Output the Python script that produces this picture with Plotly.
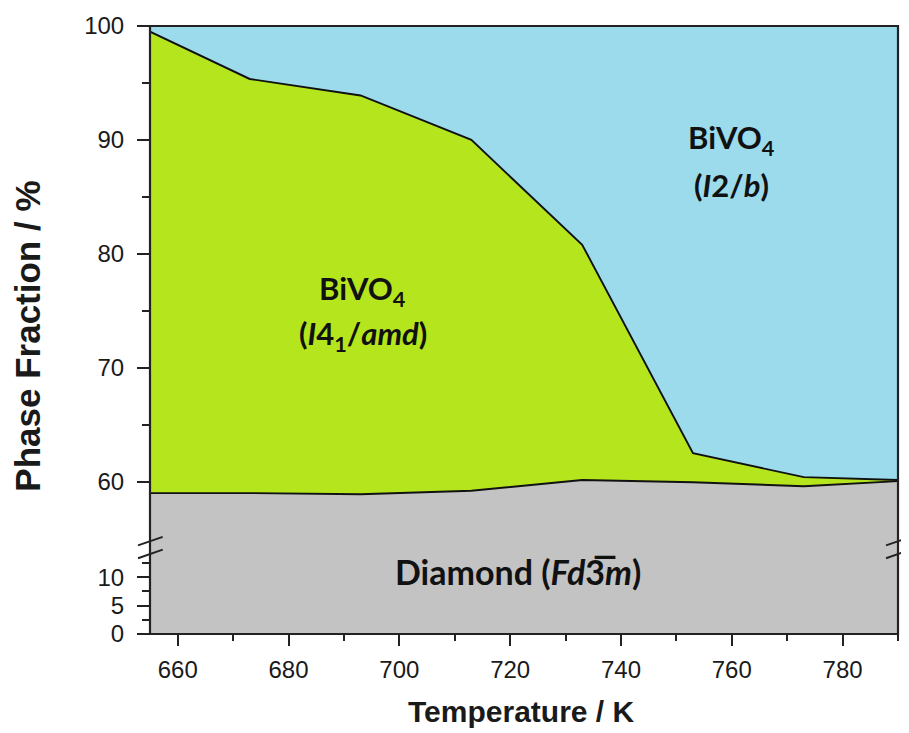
import plotly.graph_objects as go

# Temperatures (K) at which boundaries were read (ends at axis limits)
temperature = [655, 673, 693, 713, 733, 753, 773, 790]
# Cumulative phase fraction (%): Diamond (Fd-3m) upper boundary
diamond_top = [59.0, 59.0, 58.9, 59.2, 60.15, 59.95, 59.6, 60.05]
# Cumulative phase fraction (%): Diamond + BiVO4 (I41/amd) upper boundary
tetragonal_top = [99.5, 95.35, 93.9, 90.0, 80.8, 62.5, 60.4, 60.15]
# Total (Diamond + I41/amd + I2/b)
total = [100, 100, 100, 100, 100, 100, 100, 100]

top_ticks = [60, 70, 80, 90, 100]
top_minor = [65, 75, 85, 95]
bottom_ticks = [0, 5, 10]
bottom_minor = [2.5, 7.5, 12.5]
x_ticks = [660, 680, 700, 720, 740, 760, 780]
x_minor = [670, 690, 710, 730, 750, 770, 790]

GRAY = "#C3C3C3"
GREEN = "#B5E61D"
BLUE = "#9BDBEB"
LINE = "#111111"

fig = go.Figure()
# upper (broken) section
fig.add_trace(go.Scatter(x=temperature, y=diamond_top, mode="lines", fill="tozeroy",
                         fillcolor=GRAY, line=dict(color=LINE, width=1.9),
                         xaxis="x", yaxis="y", showlegend=False, hoverinfo="skip"))
fig.add_trace(go.Scatter(x=temperature, y=tetragonal_top, mode="lines", fill="tonexty",
                         fillcolor=GREEN, line=dict(color=LINE, width=1.9),
                         xaxis="x", yaxis="y", showlegend=False, hoverinfo="skip"))
fig.add_trace(go.Scatter(x=temperature, y=total, mode="lines", fill="tonexty",
                         fillcolor=BLUE, line=dict(color=BLUE, width=0),
                         xaxis="x", yaxis="y", showlegend=False, hoverinfo="skip"))
# lower section (0 - 16 %)
fig.add_trace(go.Scatter(x=temperature, y=diamond_top, mode="lines", fill="tozeroy",
                         fillcolor=GRAY, line=dict(color=GRAY, width=0),
                         xaxis="x", yaxis="y2", showlegend=False, hoverinfo="skip"))

brk = 0.1497
tickfont = dict(family="Liberation Sans, Arial", size=24, color="#1a1a1a")

fig.update_layout(
    width=893, height=725,
    margin=dict(l=142, r=3, t=18, b=99),
    paper_bgcolor="white", plot_bgcolor="white",
    xaxis=dict(range=[655, 790], anchor="y2", tickvals=x_ticks, ticks="outside",
               ticklen=11, tickwidth=2, tickcolor="#222", showline=False,
               showgrid=False, zeroline=False, tickfont=tickfont, ticklabelstandoff=3,
               minor=dict(tickvals=x_minor, ticks="outside", ticklen=6, tickwidth=2,
                          tickcolor="#222", showgrid=False)),
    yaxis=dict(domain=[brk, 1], range=[54.62, 100], anchor="x", tickvals=top_ticks,
               ticks="outside", ticklen=12, tickwidth=2, tickcolor="#222",
               showline=False, showgrid=False, zeroline=False, tickfont=tickfont,
               ticklabelstandoff=8,
               minor=dict(tickvals=top_minor, ticks="outside", ticklen=7, tickwidth=2,
                          tickcolor="#222", showgrid=False)),
    yaxis2=dict(domain=[0, brk], range=[0, 16.05], anchor="x", tickvals=bottom_ticks,
                ticks="outside", ticklen=12, tickwidth=2, tickcolor="#222",
                showline=False, showgrid=False, zeroline=False, tickfont=tickfont,
                ticklabelstandoff=8,
                minor=dict(tickvals=bottom_minor, ticks="outside", ticklen=7, tickwidth=2,
                           tickcolor="#222", showgrid=False)),
)

# frame
fig.add_shape(type="rect", xref="paper", yref="paper", x0=0, x1=1, y0=0, y1=1,
              line=dict(color="#222", width=2.2), layer="above")
# axis break marks (left and right)
for xp in (0, 1):
    for dy in (0.0, -0.021):
        fig.add_shape(type="line", xref="paper", yref="paper",
                      x0=xp - 0.016, y0=brk + dy - 0.004, x1=xp + 0.017, y1=brk + dy + 0.01,
                      line=dict(color="#222", width=2), layer="above")

# axis titles
fig.add_annotation(x=-0.165, y=0.49, xref="paper", yref="paper", xanchor="center",
                   yanchor="middle", text="<b>Phase Fraction / %</b>", textangle=-90,
                   showarrow=False,
                   font=dict(family="Liberation Sans, Arial", size=35, color="#1a1a1a"))
fig.add_annotation(x=0.497, y=-0.128, xref="paper", yref="paper", xanchor="center",
                   yanchor="middle", text="<b>Temperature / K</b>", showarrow=False,
                   font=dict(family="Liberation Sans, Arial", size=30, color="#1a1a1a"))

afont = dict(family="Lato, Open Sans, sans-serif", size=31, color="#111")
dfont = dict(family="Lato, Open Sans, sans-serif", size=34, color="#111")
fig.add_annotation(x=760.0, y=90.0, xref="x", yref="y", text="<b>BiVO<sub>4</sub></b>",
                   showarrow=False, font=afont)
fig.add_annotation(x=760.0, y=86.0, xref="x", yref="y", text="<b>(<i>I</i>2/<i>b</i>)</b>",
                   showarrow=False, font=afont)
fig.add_annotation(x=693.4, y=76.8, xref="x", yref="y", text="<b>BiVO<sub>4</sub></b>",
                   showarrow=False, font=afont)
fig.add_annotation(x=693.4, y=72.8, xref="x", yref="y",
                   text="<b>(<i>I</i>4<sub>1</sub>/<i>amd</i>)</b>",
                   showarrow=False, font=afont)
fig.add_annotation(x=721.4, y=11.0, xref="x", yref="y2",
                   text="<b>Diamond (<i>Fd</i>3\u0305<i>m</i>)</b>",
                   showarrow=False, font=dfont)

fig.write_html("out.html")
